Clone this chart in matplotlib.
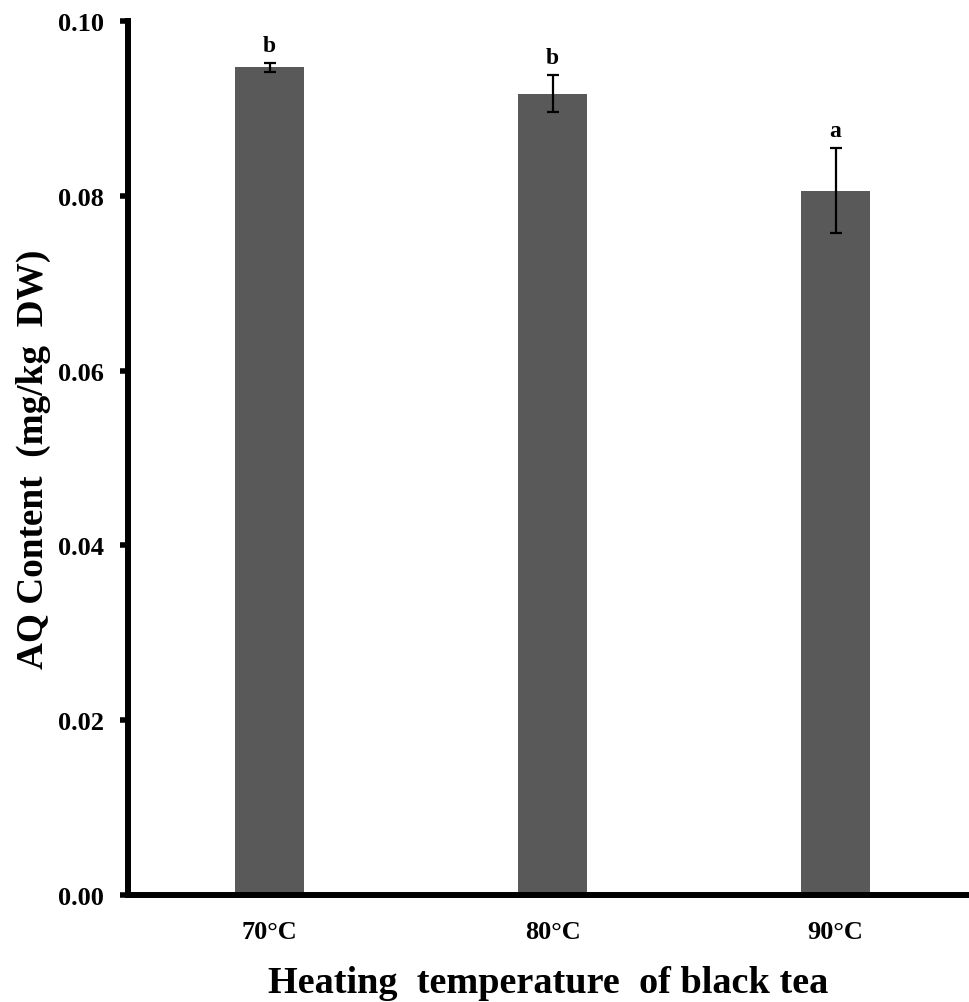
import numpy as np
import matplotlib
matplotlib.use("Agg")
import matplotlib.pyplot as plt

# data
temps = ["70°C", "80°C", "90°C"]
aq_mean = [0.0947, 0.0917, 0.0806]
aq_err = [0.0005, 0.0021, 0.0049]
sig_letters = ["b", "b", "a"]
y_ticks = [0.00, 0.02, 0.04, 0.06, 0.08, 0.10]

plt.rcParams["font.family"] = ["Liberation Serif", "DejaVu Serif"]
plt.rcParams["font.weight"] = "bold"

fig = plt.figure(figsize=(9.7, 10.03), dpi=100)
ax = fig.add_axes([0.132, 0.1067, 0.866, 0.8713])

x = np.arange(len(temps))
ax.bar(x, aq_mean, width=0.244, color="#595959", zorder=2)
ax.errorbar(x, aq_mean, yerr=aq_err, fmt="none", ecolor="black",
            elinewidth=1.6, capsize=4.5, capthick=1.6, zorder=3)

# significance letters above the error bars
for xi, m, e, lab in zip(x, aq_mean, aq_err, sig_letters):
    ax.annotate(lab, (xi, m + e), xytext=(0, 5), textcoords="offset points",
                ha="center", va="bottom", fontsize=17, fontweight="bold")

ax.set_xlim(-0.5, 2.468)
ax.set_ylim(0, 0.10)
ax.set_yticks(y_ticks)
ax.set_yticklabels([f"{v:.2f}" for v in y_ticks])
ax.set_xticks(x)
ax.set_xticklabels(temps)

for side in ["top", "right"]:
    ax.spines[side].set_visible(False)
ax.spines["left"].set_linewidth(4.3)
ax.spines["bottom"].set_linewidth(4.3)

ax.tick_params(axis="y", direction="out", length=5.8, width=4, labelsize=19, pad=11.5)
ax.tick_params(axis="x", length=0, labelsize=19, pad=18)

ax.set_xlabel("Heating  temperature  of black tea", fontsize=27.5,
              fontweight="bold", labelpad=16)
ax.set_ylabel("AQ Content  (mg/kg  DW)", fontsize=26.8, fontweight="bold",
              labelpad=5)

fig.savefig("out.png", dpi=100)
